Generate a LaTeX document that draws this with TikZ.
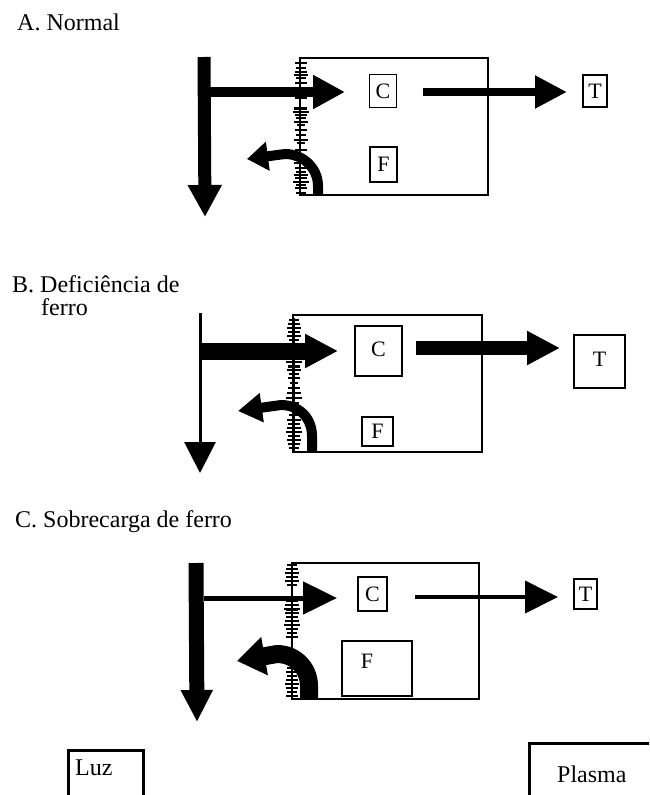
\documentclass[tikz,border=0pt]{standalone}
\usepackage{fontspec}
\setmainfont{Liberation Serif}
\usetikzlibrary{arrows.meta}
\begin{document}
\begin{tikzpicture}[x=1pt,y=-1pt,
  lbl/.style={font=\fontsize{24}{28}\selectfont, anchor=base west, inner sep=0pt},
  letter/.style={font=\fontsize{22}{26}\selectfont, inner sep=0pt},
  cell/.style={draw, line width=1.2pt, inner sep=0pt, font=\fontsize{22}{26}\selectfont},
  bigbox/.style={draw, line width=1.2pt, inner sep=0pt},
  hatch/.style={line width=1.1pt},
  thickbox/.style={line width=3pt}
]
\path[use as bounding box] (0,0) rectangle (649,795);
\clip (0,0) rectangle (649,795);

% ---------------- Panel A ----------------
\node[lbl] (labA) at (17,30) {A. Normal};
\node[bigbox, minimum width=188pt, minimum height=137pt] (boxA) at (394,126.5) {};
\node[cell, minimum width=27pt, minimum height=33pt] (CA) at (383,91) {C};
\node[cell, minimum width=27pt, minimum height=35pt] (FA) at (383.5,164.5) {F};
\node[cell, minimum width=24pt, minimum height=32pt] (TA) at (595,91) {T};
\coordinate (a1) at (204,57);
\coordinate (a2) at (205,217);
\coordinate (a3) at (204,92);
\coordinate (a4) at (345,92);
\coordinate (a5) at (423,92);
\coordinate (a6) at (567,92);
\draw[hatch] (300,58) -- (300,195);
\foreach \y/\l in {63/12,68/10,72/12,75/14,78/10,83/12,88/8,93/10,98/12,112/16,115/12,118/10,122/14,125/8,130/12,135/10,140/14,143/8,150/12,157/10,163/14,168/12,172/10,175/14,178/12,182/16,185/10,188/12,193/10}
  \draw[hatch] (300-\l/2+1,\y) -- (300+\l/2+1,\y);
\draw[line width=3pt] (294,108) -- (307,108);
\draw[line width=13pt, -{Triangle[length=32pt,width=32pt]}] (a1) -- (a2);
\draw[line width=10pt, -{Triangle[length=32pt,width=32pt]}] (a3) -- (a4);
\draw[line width=8pt, -{Triangle[length=32pt,width=31pt]}] (a5) -- (a6);
\coordinate (a7) at (318,195);
\coordinate (a8) at (247,159);
\draw[line width=10pt, -{Triangle[length=21pt,width=28pt]}] (a7) -- (318,186) .. controls (318,168) and (303,154) .. (285,154) -- (a8);

% ---------------- Panel B ----------------
\node[lbl] (labB1) at (12,292) {B. Deficiência de};
\node[lbl] (labB2) at (41,315) {ferro};
\node[bigbox, minimum width=189pt, minimum height=137pt] (boxB) at (387.5,383.5) {};
\node[cell, minimum width=47pt, minimum height=50pt] (CB) at (378.5,351) {\raisebox{3pt}{C}};
\node[cell, minimum width=31pt, minimum height=29pt] (FB) at (377.5,431.5) {F};
\node[cell, minimum width=51pt, minimum height=53pt] (TB) at (599.5,361.5) {\raisebox{4pt}{T}};
\coordinate (b1) at (200,313);
\coordinate (b2) at (200,473);
\coordinate (b3) at (200,351);
\coordinate (b4) at (338,351);
\coordinate (b5) at (416,348);
\coordinate (b6) at (560,348);
\draw[hatch] (294,318) -- (294,452);
\foreach \y/\l in {320/10,324/12,328/14,332/12,336/14,340/10,345/12,357/14,362/16,366/12,370/14,374/10,378/12,383/8,388/12,393/14,398/16,403/10,408/12,415/10,420/14,424/12,428/14,432/16,436/12,440/14,444/12,448/10}
  \draw[hatch] (294-\l/2,\y) -- (294+\l/2,\y);
\draw[line width=3pt] (288,366) -- (300,366);
\draw[line width=3pt, -{Triangle[length=31pt,width=31pt]}] (b1) -- (b2);
\draw[line width=17pt, -{Triangle[length=33pt,width=32pt]}] (b3) -- (b4);
\draw[line width=14pt, -{Triangle[length=33pt,width=32pt]}] (b5) -- (b6);
\coordinate (b7) at (312,452);
\coordinate (b8) at (238,411);
\draw[line width=10pt, -{Triangle[length=24pt,width=28pt]}] (b7) -- (312,436) .. controls (312,418) and (299,405) .. (281,405) -- (b8);

% ---------------- Panel C ----------------
\node[lbl] (labC) at (15,527) {C. Sobrecarga de ferro};
\node[bigbox, minimum width=187pt, minimum height=136pt] (boxC) at (385.5,631) {};
\node[cell, minimum width=29pt, minimum height=34pt] (CC) at (372.5,594) {C};
\node[bigbox, minimum width=70pt, minimum height=55pt] (FC) at (377,668.5) {};
\node[letter] (FCt) at (367,661) {F};
\node[cell, minimum width=23pt, minimum height=30pt] (TC) at (585.5,594) {T};
\coordinate (c1) at (196,563);
\coordinate (c2) at (197,722);
\coordinate (c3) at (204,598);
\coordinate (c4) at (337,598);
\coordinate (c5) at (415,597);
\coordinate (c6) at (558,597);
\draw[hatch] (292,563) -- (292,699);
\foreach \y/\l in {565/10,569/12,573/14,577/12,581/14,585/10,601/12,605/14,609/16,613/14,617/12,621/14,625/16,629/12,633/10,637/12,668/10,672/12,676/10,680/12,684/14,688/12,692/10,696/12}
  \draw[hatch] (292-\l/2,\y) -- (292+\l/2,\y);
\draw[line width=3pt] (286,609) -- (298,609);
\draw[line width=15pt, -{Triangle[length=32pt,width=30pt]}] (c1) -- (c2);
\draw[line width=5pt, -{Triangle[length=34pt,width=32pt]}] (c3) -- (c4);
\draw[line width=4pt, -{Triangle[length=33pt,width=32pt]}] (c5) -- (c6);
\coordinate (c7) at (309,699);
\coordinate (c8) at (237,661);
\draw[line width=18pt, -{Triangle[length=28pt,width=37pt]}] (c7) -- (309,686) .. controls (309,668) and (295,654) .. (277,654) -- (c8);

% ---------------- Legend ----------------
\node[lbl] (luz) at (75,775) {Luz};
\draw[thickbox] (68,810) -- (68,750) -- (143,750) -- (143,810);
\node[lbl] (plasma) at (557,782) {Plasma};
\draw[thickbox] (529,810) -- (529,743) -- (660,743);
\end{tikzpicture}
\end{document}
